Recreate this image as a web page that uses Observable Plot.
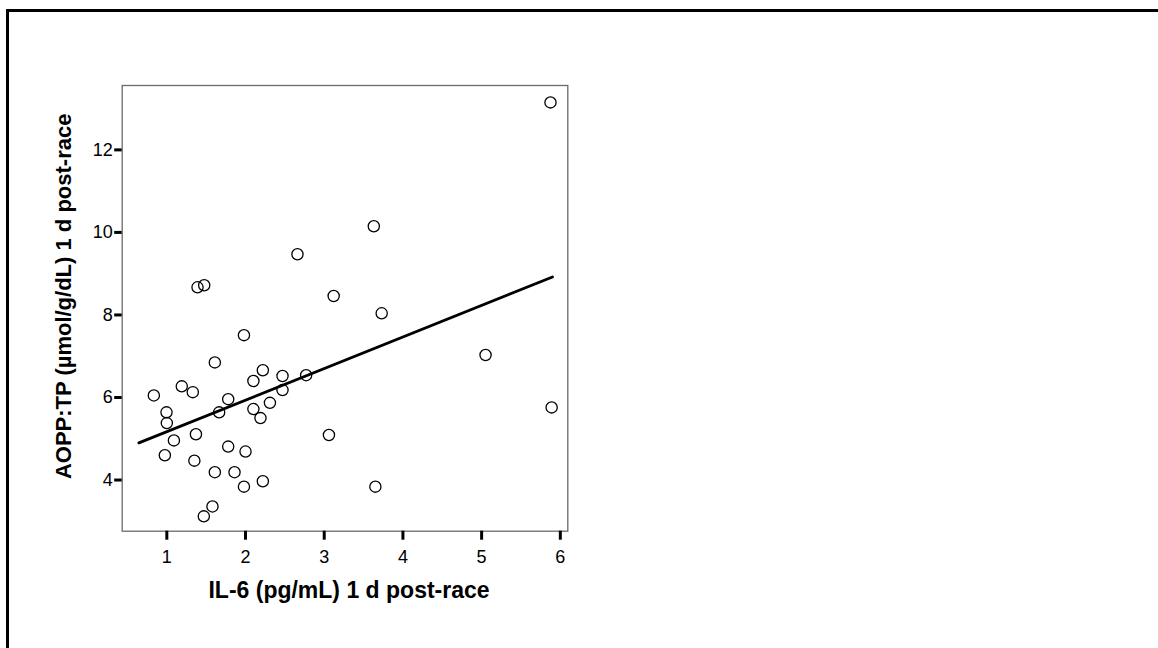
<!DOCTYPE html>
<html>
<head>
<meta charset="utf-8">
<script src="https://cdn.jsdelivr.net/npm/d3@7"></script>
<script src="https://cdn.jsdelivr.net/npm/@observablehq/plot@0.6"></script>
<style>
  html, body { margin: 0; padding: 0; background: #fff; overflow: hidden; }
  #wrap { position: relative; width: 1158px; height: 648px; }
  #box { position: absolute; left: 6px; top: 9px; width: 1200px; height: 700px;
         border-top: 3px solid #000; border-left: 3px solid #000; pointer-events: none; }
  #chart { position: absolute; left: 0; top: 0; }
</style>
</head>
<body>
<div id="wrap"><div id="box"></div><div id="chart"></div></div>
<script>
// IL-6 one day after the race (pg/mL)
const il6 = [
  0.835, 0.996, 1.0, 1.09, 0.975, 1.19, 1.33, 1.37, 1.35, 1.39,
  1.475, 1.61, 1.665, 1.61, 1.58, 1.47, 1.78, 1.78, 1.86, 1.98,
  2.0, 1.98, 2.10, 2.10, 2.22, 2.19, 2.22, 2.31, 2.47, 2.47,
  2.77, 2.66, 3.12, 3.06, 3.73, 3.65, 5.05, 5.89, 5.875, 3.63
];
// AOPP:TP one day after the race (µmol/g/dL)
const aopp = [
  6.05, 5.64, 5.38, 4.96, 4.60, 6.27, 6.13, 5.11, 4.47, 8.67,
  8.72, 6.85, 5.64, 4.19, 3.36, 3.12, 5.96, 4.81, 4.19, 7.51,
  4.69, 3.84, 6.40, 5.72, 6.66, 5.50, 3.97, 5.87, 6.52, 6.18,
  6.54, 9.47, 8.46, 5.09, 8.04, 3.84, 7.03, 5.76, 13.15, 10.15
];
// fitted line end points
const fitX = [0.645, 5.9];
const fitY = [4.90, 8.92];

const xTicks = [1, 2, 3, 4, 5, 6];
const yTicks = [4, 6, 8, 10, 12];
const xLabel = "IL-6 (pg/mL) 1 d post-race";
const yLabel = "AOPP:TP (µmol/g/dL) 1 d post-race";

const points = il6.map((x, i) => ({x, y: aopp[i]}));
const fit = fitX.map((x, i) => ({x, y: fitY[i]}));

const chart = Plot.plot({
  width: 1158,
  height: 648,
  marginLeft: 121.7,
  marginRight: 590.7,
  marginTop: 85,
  marginBottom: 117.3,
  style: { fontFamily: "'Liberation Sans', Arial, sans-serif", fontSize: "18px", color: "#000", background: "transparent" },
  x: { domain: [0.433, 6.095] },
  y: { domain: [2.76, 13.56] },
  marks: [
    Plot.frame({ stroke: "#6a6a6a", strokeWidth: 1.3 }),
    Plot.axisX(xTicks, { tickSize: 9, tickPadding: 10, strokeWidth: 3, label: null, fontSize: 18 }),
    Plot.axisY(yTicks, { tickSize: 7.5, tickPadding: 2, strokeWidth: 3, label: null, fontSize: 18 }),
    Plot.line(fit, { x: "x", y: "y", stroke: "#000", strokeWidth: 2.8 }),
    Plot.dot(points, { x: "x", y: "y", r: 5.6, stroke: "#000", strokeWidth: 1.3, fill: "none" }),
    Plot.text([xLabel], { frameAnchor: "bottom", text: d => d, dy: 67, dx: 4, fontSize: 23, fontWeight: "bold", lineAnchor: "bottom" }),
    Plot.text([yLabel], { frameAnchor: "left", text: d => d, dx: -58, dy: -12, rotate: -90, textAnchor: "middle", fontSize: 22, fontWeight: "bold" })
  ]
});
// tick labels at 18px
d3.select(chart).selectAll('[aria-label*="axis"] text, [aria-label*="axis"]').style("font-size", "18px");
document.getElementById("chart").appendChild(chart);
</script>
</body>
</html>
